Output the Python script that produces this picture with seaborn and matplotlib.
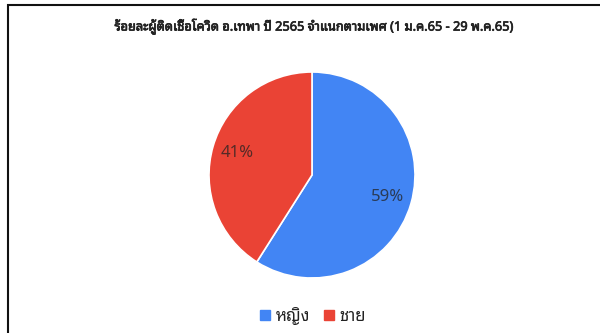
import matplotlib
matplotlib.use("Agg")
import matplotlib.pyplot as plt
import seaborn as sns
from matplotlib.lines import Line2D
from matplotlib.patches import Rectangle
import matplotlib.patheffects as pe

title = "ร้อยละผู้ติดเชื้อโควิด อ.เทพา ปี 2565 จำแนกตามเพศ (1 ม.ค.65 - 29 พ.ค.65)"
sexes = ["หญิง", "ชาย"]
percent = [59, 41]
colors = ["#4285F4", "#EA4335"]

sns.set_theme(style="white")
plt.rcParams["font.family"] = ["Noto Sans Thai Looped", "DejaVu Sans"]

W, H = 600, 333
fig = plt.figure(figsize=(6, 3.33), dpi=100)
fig.patch.set_facecolor("white")

# frame visible at top/left of the screenshot
fig.add_artist(Rectangle((8 / W, -0.1), 1.2, (H - 5) / H + 0.1, transform=fig.transFigure,
                         fill=False, edgecolor="#111111", linewidth=1.5))

cx, cy, r = 312, 175, 103
ax = fig.add_axes([(cx - r) / W, (H - cy - r) / H, 2 * r / W, 2 * r / H])
wedges, _, autotexts = ax.pie(percent, colors=colors, startangle=90, counterclock=False,
                              autopct="%.0f%%", pctdistance=0.76,
                              wedgeprops=dict(edgecolor="white", linewidth=1.2),
                              textprops=dict(fontsize=12, color="#222222", alpha=0.75))
ax.set_xlim(-1, 1)
ax.set_ylim(-1, 1)
ax.set_aspect("equal")

fig.text(314 / W, 1 - 27 / H, title, ha="center", va="center", fontsize=9.2,
         color="#222222",
         path_effects=[pe.withStroke(linewidth=0.5, foreground="#222222")])

handles = [Line2D([], [], marker="s", linestyle="", markersize=7, color=c) for c in colors]
fig.legend(handles, sexes, loc="center", bbox_to_anchor=(313 / W, 1 - 316 / H), ncol=2,
           frameon=False, fontsize=12, handlelength=0.6, handletextpad=0.35,
           columnspacing=0.8, labelcolor="#222222")

fig.savefig("out.png", dpi=100)
